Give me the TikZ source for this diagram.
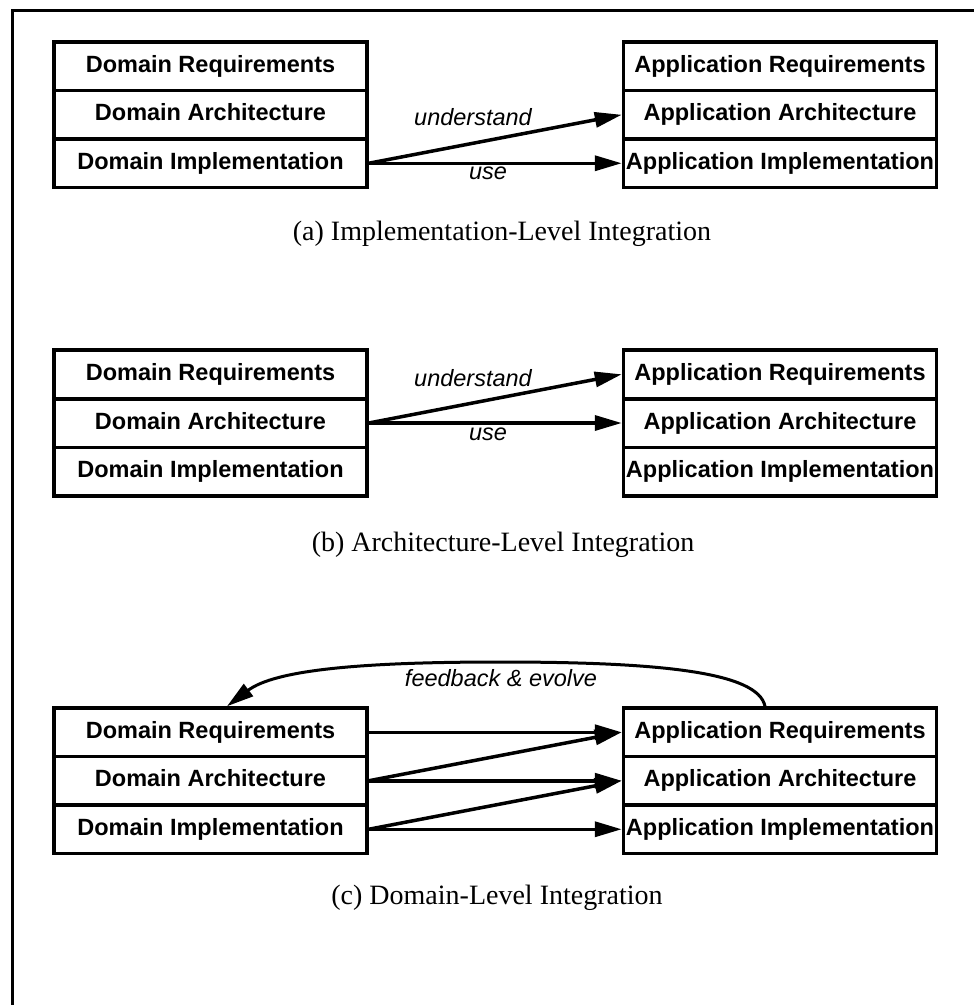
\documentclass[tikz,border=0pt]{standalone}
\usepackage{fontspec}
\setmainfont{Liberation Serif}
\setsansfont{Liberation Sans}
\usetikzlibrary{arrows.meta}

\begin{document}
\begin{tikzpicture}[x=1pt,y=-1pt,
  layer/.style={draw, line width=3.5pt, minimum width=313pt, minimum height=48.5pt,
    inner sep=0pt, font=\sffamily\bfseries\fontsize{23.5}{23.5}\selectfont,
    text height=16.5pt, text depth=4.5pt},
  flow/.style={line width=3.5pt, -{Triangle[length=27pt,width=15pt]}},
  verb/.style={font=\sffamily\itshape\fontsize{23.5}{23.5}\selectfont, inner sep=0pt},
  caption/.style={font=\fontsize{28}{28}\selectfont, inner sep=0pt}]

\useasboundingbox (0,0) rectangle (974,1005);

% open frame (top and left edges)
\draw[line width=3pt] (974,10) -- (12,10) -- (12,1005);

% ---------- (a) implementation-level ----------
\node[layer] (aDR) at (210.5,66.25)  {Domain Requirements};
\node[layer] (aDA) at (210.5,114.75) {Domain Architecture};
\node[layer] (aDI) at (210.5,163.25) {Domain Implementation};
\node[layer] (aAR) at (780,66.25)    {Application Requirements};
\node[layer] (aAA) at (780,114.75)   {Application Architecture};
\node[layer] (aAI) at (780,163.25)   {Application Implementation};

\draw[flow] (aDI.east) -- (aAA.west);
\draw[flow] (aDI.east) -- (aAI.west);
\node[verb] (aUnd) at (473,117) {understand};
\node[verb] (aUse) at (488,173) {use};
\node[caption] (capA) at (502,234) {(a) Implementation-Level Integration};

% ---------- (b) architecture-level ----------
\node[layer] (bDR) at (210.5,374.3) {Domain Requirements};
\node[layer] (bDA) at (210.5,423)   {Domain Architecture};
\node[layer] (bDI) at (210.5,471.7) {Domain Implementation};
\node[layer] (bAR) at (780,374.3)   {Application Requirements};
\node[layer] (bAA) at (780,423)     {Application Architecture};
\node[layer] (bAI) at (780,471.7)   {Application Implementation};

\draw[flow] (bDA.east) -- (bAR.west);
\draw[flow] (bDA.east) -- (bAA.west);
\node[verb] (bUnd) at (473,378) {understand};
\node[verb] (bUse) at (488,434) {use};
\node[caption] (capB) at (503,545) {(b) Architecture-Level Integration};

% ---------- (c) domain-level ----------
\node[layer] (cDR) at (210.5,732.25) {Domain Requirements};
\node[layer] (cDA) at (210.5,780.75) {Domain Architecture};
\node[layer] (cDI) at (210.5,829.25) {Domain Implementation};
\node[layer] (cAR) at (780,732.25)   {Application Requirements};
\node[layer] (cAA) at (780,780.75)   {Application Architecture};
\node[layer] (cAI) at (780,829.25)   {Application Implementation};

\draw[flow] (cDR.east) -- (cAR.west);
\draw[flow] (cDA.east) -- (cAR.west);
\draw[flow] (cDA.east) -- (cAA.west);
\draw[flow] (cDI.east) -- (cAA.west);
\draw[flow] (cDI.east) -- (cAI.west);

\draw[flow, line width=3pt]
  ([xshift=-15pt]cAR.north) .. controls (758,672) and (660,662) .. (500,662)
  .. controls (360,662) and (275,670) .. ([xshift=16.5pt]cDR.north);
\node[verb] (cFb) at (501,678) {feedback \& evolve};
\node[caption] (capC) at (497,898) {(c) Domain-Level Integration};

\end{tikzpicture}
\end{document}
